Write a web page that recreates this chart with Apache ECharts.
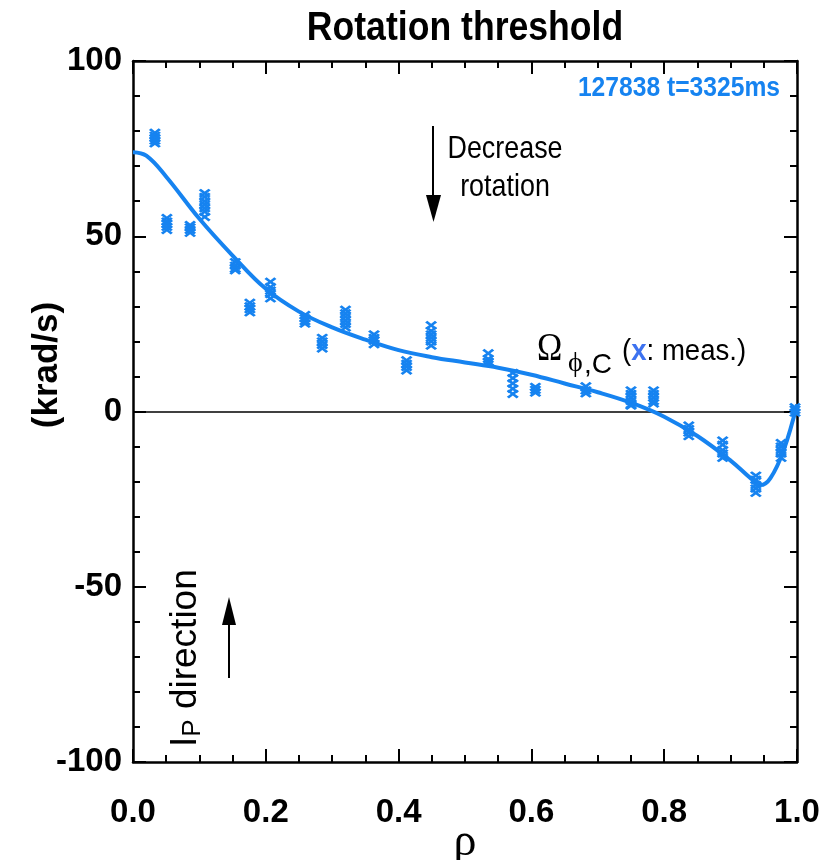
<!DOCTYPE html>
<html>
<head>
<meta charset="utf-8">
<script src="https://cdn.jsdelivr.net/npm/echarts@6/dist/echarts.min.js"></script>
<style>
html,body{margin:0;padding:0;background:#fff;}
#chart{width:836px;height:860px;}
</style>
</head>
<body>
<div id="chart"></div>
<script>
// ---- data ----
var title = 'Rotation threshold';
var shotLabel = '127838 t=3325ms';
var xTicks = [0, 0.2, 0.4, 0.6, 0.8, 1.0];
var yTicks = [-100, -50, 0, 50, 100];

// measured points (crosses): radial positions and the stacked values at each
var measRho = [0.033, 0.051, 0.086, 0.108, 0.154, 0.176, 0.207, 0.259, 0.285, 0.320, 0.363, 0.412,
               0.449, 0.535, 0.572, 0.606, 0.682, 0.750, 0.784, 0.837, 0.888, 0.938, 0.976, 0.997];
var measVals = [
  [79.5, 78.7, 78.0, 77.3, 76.5],
  [55.2, 54.2, 53.5, 52.7, 51.8],
  [53.2, 52.5, 51.8, 51.0],
  [62.3, 61.2, 60.0, 59.0, 58.0, 57.0, 55.5],
  [42.6, 41.6, 40.8, 40.3],
  [31.0, 30.0, 29.2, 28.3],
  [37.0, 35.5, 34.5, 33.5, 32.3],
  [27.5, 26.6, 25.8, 25.1],
  [21.0, 20.0, 19.0, 18.0],
  [29.0, 28.0, 27.0, 26.0, 25.0, 24.0],
  [22.0, 21.0, 20.2, 19.2],
  [14.6, 13.6, 12.7, 11.7],
  [24.6, 23.0, 22.0, 21.0, 20.0, 18.8],
  [16.6, 15.0, 14.2, 14.0],
  [11.0, 9.5, 8.0, 6.5, 5.0],
  [7.0, 6.2, 5.4],
  [7.2, 6.0, 5.2],
  [6.0, 5.0, 4.0, 3.0, 2.0, 1.7],
  [6.0, 5.0, 4.0, 3.0, 2.3],
  [-4.0, -5.0, -6.0, -7.0],
  [-8.3, -9.5, -11.0, -12.0, -13.2],
  [-18.3, -19.5, -21.0, -22.0, -23.2],
  [-9.0, -10.0, -11.0, -12.0, -13.2],
  [1.2, 0.5, -0.3]
];

// fitted profile (solid curve)
var fitRho = [0, 0.02, 0.05, 0.10, 0.15, 0.20, 0.25, 0.30, 0.35, 0.40, 0.45, 0.50, 0.55, 0.60,
              0.65, 0.70, 0.75, 0.80, 0.85, 0.90, 0.93, 0.945, 0.96, 0.98, 1.0];
var fitVal = [74, 73, 67, 55, 44.5, 35, 28.5, 24, 20.5, 17.5, 15.5, 14, 12.5, 10.5,
              8, 5.5, 2.5, -1.5, -7, -14, -19, -21, -19, -11, 2];

// ---- build ----
var BLUE = '#1683f0';
var SANS = "'Liberation Sans',Arimo,'Noto Sans',sans-serif";
var SERIF = "'Liberation Serif','DejaVu Serif',serif";

var measData = [];
measRho.forEach(function (r, i) {
  measVals[i].forEach(function (v) { measData.push([r, v]); });
});
var fitData = fitRho.map(function (r, i) { return [r, fitVal[i]]; });

var crossPath = 'path://M0,1.8L1.8,0L5,3.2L8.2,0L10,1.8L6.8,5L10,8.2L8.2,10L5,6.8L1.8,10L0,8.2L3.2,5Z';

function axisCommon(extra) {
  var base = {
    type: 'value',
    axisLine: { show: true, onZero: false, lineStyle: { color: '#000', width: 2.5 } },
    axisTick: { show: true, inside: true, length: 13, lineStyle: { color: '#000', width: 2 } },
    splitLine: { show: false },
    minorSplitLine: { show: false }
  };
  for (var k in extra) base[k] = extra[k];
  return base;
}

var labelStyle = { color: '#000', fontFamily: SANS, fontWeight: 'bold', fontSize: 33 };
var xMinor = { show: true, splitNumber: 4, length: 7, lineStyle: { color: '#000', width: 2 } };
var yMinor = { show: true, splitNumber: 5, length: 7, lineStyle: { color: '#000', width: 2 } };

var chart = echarts.init(document.getElementById('chart'), null, { renderer: 'canvas' });
chart.setOption({
  animation: false,
  backgroundColor: '#fff',
  grid: { left: 133, right: 39, top: 61, bottom: 98, containLabel: false },
  xAxis: [
    axisCommon({
      min: xTicks[0], max: xTicks[xTicks.length - 1], interval: 0.2, position: 'bottom',
      minorTick: xMinor,
      axisLabel: Object.assign({ margin: 34, formatter: function (v) { return v.toFixed(1); } }, labelStyle)
    }),
    axisCommon({
      min: xTicks[0], max: xTicks[xTicks.length - 1], interval: 0.2, position: 'top',
      minorTick: xMinor, axisLabel: { show: false }
    })
  ],
  yAxis: [
    axisCommon({
      min: yTicks[0], max: yTicks[yTicks.length - 1], interval: 50, position: 'left',
      minorTick: yMinor,
      axisLabel: Object.assign({ margin: 11 }, labelStyle)
    }),
    axisCommon({
      min: yTicks[0], max: yTicks[yTicks.length - 1], interval: 50, position: 'right',
      minorTick: yMinor, axisLabel: { show: false }
    })
  ],
  series: [
    {
      type: 'line', data: fitData, smooth: 0.4, showSymbol: false, symbol: 'none',
      lineStyle: { color: BLUE, width: 4 }, z: 3,
      markLine: {
        silent: true, symbol: 'none', label: { show: false },
        lineStyle: { color: '#000', width: 1.5, type: 'solid' },
        data: [{ yAxis: 0 }], z: 1
      }
    },
    {
      type: 'scatter', data: measData, symbol: crossPath, symbolSize: [12, 9],
      itemStyle: { color: BLUE, opacity: 1 }, z: 4
    }
  ],
  graphic: [
    { type: 'text', x: 465, y: 29, scaleX: 0.89, silent: true,
      style: { text: title, x: 0, y: 0, align: 'center', verticalAlign: 'middle', font: 'bold 40px ' + SANS, fill: '#000' } },
    { type: 'text', x: 780, y: 88, scaleX: 0.88, silent: true,
      style: { text: shotLabel, x: 0, y: 0, align: 'right', verticalAlign: 'middle', font: 'bold 28px ' + SANS, fill: BLUE } },
    { type: 'text', x: 505, y: 149, scaleX: 0.84, silent: true,
      style: { text: 'Decrease', x: 0, y: 0, align: 'center', verticalAlign: 'middle', font: '32px ' + SANS, fill: '#000' } },
    { type: 'text', x: 505, y: 187, scaleX: 0.84, silent: true,
      style: { text: 'rotation', x: 0, y: 0, align: 'center', verticalAlign: 'middle', font: '32px ' + SANS, fill: '#000' } },
    { type: 'line', shape: { x1: 433, y1: 126, x2: 433, y2: 200 }, style: { stroke: '#000', lineWidth: 2 }, silent: true },
    { type: 'polygon', shape: { points: [[426, 195], [441, 195], [433.5, 222]] }, style: { fill: '#000' }, silent: true },
    { type: 'line', shape: { x1: 229, y1: 678, x2: 229, y2: 620 }, style: { stroke: '#000', lineWidth: 2 }, silent: true },
    { type: 'polygon', shape: { points: [[222, 625], [236, 625], [229, 597]] }, style: { fill: '#000' }, silent: true },
    { type: 'text', x: 186, y: 747, rotation: Math.PI / 2, silent: true,
      style: { text: '{i|I}{s|P}{d| direction}', x: 0, y: 0, align: 'left', verticalAlign: 'middle',
        rich: { i: { font: '37px ' + SANS, fill: '#000' },
                s: { font: '26px ' + SANS, fill: '#000', padding: [14, 0, 0, 0] },
                d: { font: '37px ' + SANS, fill: '#000' } } } },
    { type: 'text', x: 47, y: 365, rotation: Math.PI / 2, silent: true,
      style: { text: '(krad/s)', x: 0, y: 0, align: 'center', verticalAlign: 'middle', font: 'bold 35px ' + SANS, fill: '#000' } },
    { type: 'text', x: 465, y: 843, silent: true,
      style: { text: 'ρ', x: 0, y: 0, align: 'center', verticalAlign: 'middle', font: '46px ' + SERIF, fill: '#000' } },
    { type: 'text', x: 537, y: 349, scaleX: 0.85, silent: true,
      style: { text: 'Ω', x: 0, y: 0, align: 'left', verticalAlign: 'middle', font: '40px ' + SERIF, fill: '#000' } },
    { type: 'text', x: 568, y: 364, silent: true,
      style: { text: 'ϕ', x: 0, y: 0, align: 'left', verticalAlign: 'middle', font: '28px ' + SERIF, fill: '#000' } },
    { type: 'text', x: 584, y: 365, silent: true,
      style: { text: ',C', x: 0, y: 0, align: 'left', verticalAlign: 'middle', font: '28px ' + SANS, fill: '#000' } },
    { type: 'text', x: 622, y: 352, scaleX: 0.92, silent: true,
      style: { text: '{p|(}{x|x}{p|: meas.)}', x: 0, y: 0, align: 'left', verticalAlign: 'middle',
        rich: { p: { font: '30px ' + SANS, fill: '#000' }, x: { font: 'bold 30px ' + SANS, fill: '#3d72f0' } } } }
  ]
});
</script>
</body>
</html>
